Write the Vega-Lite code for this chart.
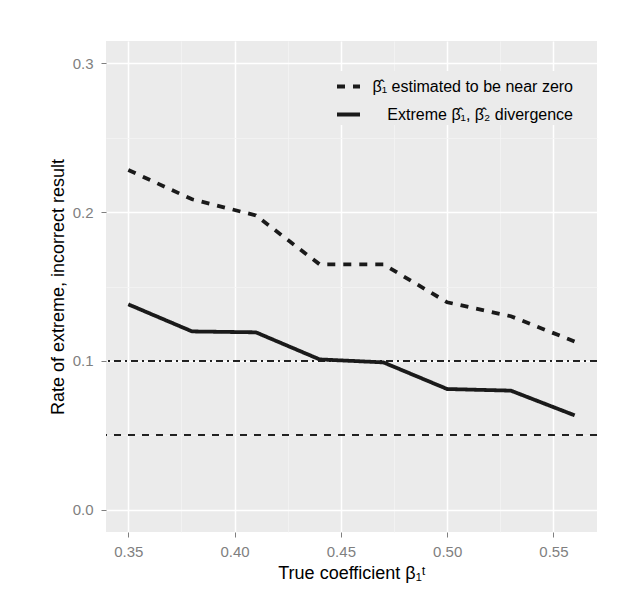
{
  "$schema": "https://vega.github.io/schema/vega-lite/v6.json",
  "autosize": {"type": "none"},
  "padding": {"left": 106, "top": 41, "right": 30, "bottom": 76},
  "width": 491,
  "height": 491,
  "background": "white",
  "config": {
    "font": "Liberation Sans",
    "view": {"stroke": null, "fill": "#ebebeb"}
  },
  "data": {
    "values": [
      {"x": 0.35, "rate": 0.2283, "series": "β̂₁ estimated to be near zero"},
      {"x": 0.38, "rate": 0.2086, "series": "β̂₁ estimated to be near zero"},
      {"x": 0.41, "rate": 0.1978, "series": "β̂₁ estimated to be near zero"},
      {"x": 0.44, "rate": 0.1649, "series": "β̂₁ estimated to be near zero"},
      {"x": 0.47, "rate": 0.1649, "series": "β̂₁ estimated to be near zero"},
      {"x": 0.50, "rate": 0.1394, "series": "β̂₁ estimated to be near zero"},
      {"x": 0.53, "rate": 0.1300, "series": "β̂₁ estimated to be near zero"},
      {"x": 0.56, "rate": 0.1130, "series": "β̂₁ estimated to be near zero"},
      {"x": 0.35, "rate": 0.1380, "series": "Extreme β̂₁, β̂₂ divergence"},
      {"x": 0.38, "rate": 0.1198, "series": "Extreme β̂₁, β̂₂ divergence"},
      {"x": 0.41, "rate": 0.1192, "series": "Extreme β̂₁, β̂₂ divergence"},
      {"x": 0.44, "rate": 0.1010, "series": "Extreme β̂₁, β̂₂ divergence"},
      {"x": 0.47, "rate": 0.0990, "series": "Extreme β̂₁, β̂₂ divergence"},
      {"x": 0.50, "rate": 0.0811, "series": "Extreme β̂₁, β̂₂ divergence"},
      {"x": 0.53, "rate": 0.0800, "series": "Extreme β̂₁, β̂₂ divergence"},
      {"x": 0.56, "rate": 0.0634, "series": "Extreme β̂₁, β̂₂ divergence"}
    ]
  },
  "resolve": {"axis": {"x": "independent", "y": "independent"}},
  "layer": [
    {
      "mark": {"type": "line", "opacity": 0},
      "encoding": {
        "x": {
          "field": "x", "type": "quantitative",
          "scale": {"domain": [0.3395, 0.5705], "nice": false, "zero": false},
          "axis": {"orient": "bottom", "values": [0.375, 0.425, 0.475, 0.525], "grid": true, "gridColor": "#f4f4f4", "gridWidth": 0.8, "labels": false, "ticks": false, "domain": false, "title": null}
        },
        "y": {
          "field": "rate", "type": "quantitative",
          "scale": {"domain": [-0.015, 0.315], "nice": false, "zero": false},
          "axis": {"orient": "left", "values": [0.05, 0.15, 0.25], "grid": true, "gridColor": "#f4f4f4", "gridWidth": 0.8, "labels": false, "ticks": false, "domain": false, "title": null}
        },
        "detail": {"field": "series"}
      }
    },
    {
      "mark": {"type": "rule", "color": "#222222", "strokeWidth": 1.2, "strokeDash": [6.5, 4.5, 1.5, 4.5]},
      "encoding": {"y": {"datum": 0.1, "type": "quantitative", "axis": null}}
    },
    {
      "mark": {"type": "rule", "color": "#222222", "strokeWidth": 1.2, "strokeDash": [7, 7]},
      "encoding": {"y": {"datum": 0.05, "type": "quantitative", "axis": null}}
    },
    {
      "mark": {"type": "line", "color": "#1a1a1a", "strokeWidth": 3.8},
      "encoding": {
        "x": {
          "field": "x", "type": "quantitative",
          "axis": {"orient": "bottom", "values": [0.35, 0.4, 0.45, 0.5, 0.55], "format": ".2f", "grid": true, "gridColor": "white", "gridWidth": 1.5, "domain": false, "tickColor": "#7f7f7f", "tickSize": 5, "tickWidth": 1, "labelColor": "#7f7f7f", "labelFontSize": 15, "labelPadding": 7, "title": "True coefficient β₁ᵗ", "titleFontSize": 18, "titleFontWeight": "normal", "titleColor": "#000000", "titlePadding": 5}
        },
        "y": {
          "field": "rate", "type": "quantitative",
          "axis": {"orient": "left", "values": [0, 0.1, 0.2, 0.3], "format": ".1f", "grid": true, "gridColor": "white", "gridWidth": 1.5, "domain": false, "tickColor": "#7f7f7f", "tickSize": 5, "tickWidth": 1, "labelColor": "#7f7f7f", "labelFontSize": 15, "labelPadding": 8, "title": "Rate of extreme, incorrect result", "titleFontSize": 18, "titleFontWeight": "normal", "titleColor": "#000000", "titlePadding": 5}
        },
        "strokeDash": {
          "field": "series", "type": "nominal",
          "scale": {"domain": ["β̂₁ estimated to be near zero", "Extreme β̂₁, β̂₂ divergence"], "range": [[8, 8], [1, 0]]},
          "legend": {"orient": "none", "legendX": 227, "legendY": 30, "title": null, "padding": 2, "fillColor": "#ebebeb", "symbolType": "stroke", "symbolSize": 529, "symbolStrokeWidth": 3.8, "symbolStrokeColor": "#1a1a1a", "labelFontSize": 16, "labelColor": "#000000", "labelLimit": 400, "labelOffset": 211, "labelAlign": "right", "rowPadding": 6}
        }
      }
    }
  ]
}
